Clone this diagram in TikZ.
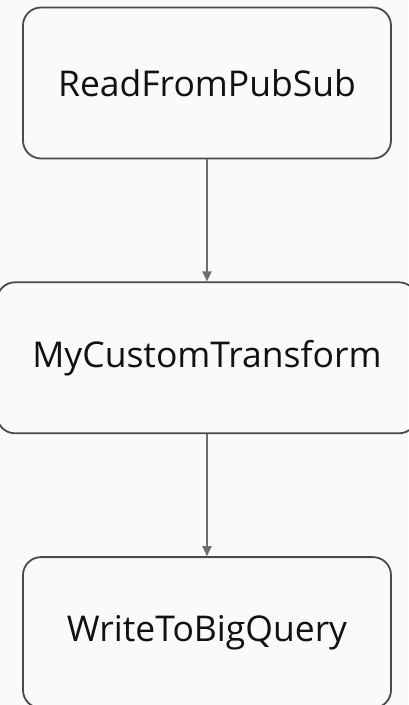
\documentclass[tikz,border=0pt]{standalone}
\usepackage{fontspec}
\setmainfont{Open Sans}
\usepackage{tikz}
\usetikzlibrary{arrows.meta,positioning}
\definecolor{pagebg}{HTML}{FAFAFA}
\definecolor{boxline}{HTML}{4A4A4A}
\definecolor{flowline}{HTML}{6E6E6E}
\definecolor{labeltext}{HTML}{111111}

\begin{document}
\begin{tikzpicture}[x=1pt, y=-1pt, >={Triangle[width=9pt,length=10pt]}]
	% page area
	\fill[pagebg] (0,0) rectangle (408,705);
	\useasboundingbox (0,0) rectangle (408,705);

	\tikzset{
		stage/.style={draw=boxline, line width=1.8pt, rounded corners=18pt,
			minimum width=368pt, minimum height=151pt, text=labeltext,
			font=\fontsize{35.5}{40}\selectfont},
		flow/.style={->, draw=flowline, fill=flowline, line width=1.8pt}
	}

	% pipeline steps
	\node[stage] (read) at (207,83) {ReadFromPubSub};
	\node[stage, minimum width=420pt, below=122pt of read] (transform) {MyCustomTransform};
	\node[stage, below=122pt of transform] (write) {WriteToBigQuery};

	% edges
	\draw[flow] (read) -- (transform);
	\draw[flow] (transform) -- (write);
\end{tikzpicture}
\end{document}
